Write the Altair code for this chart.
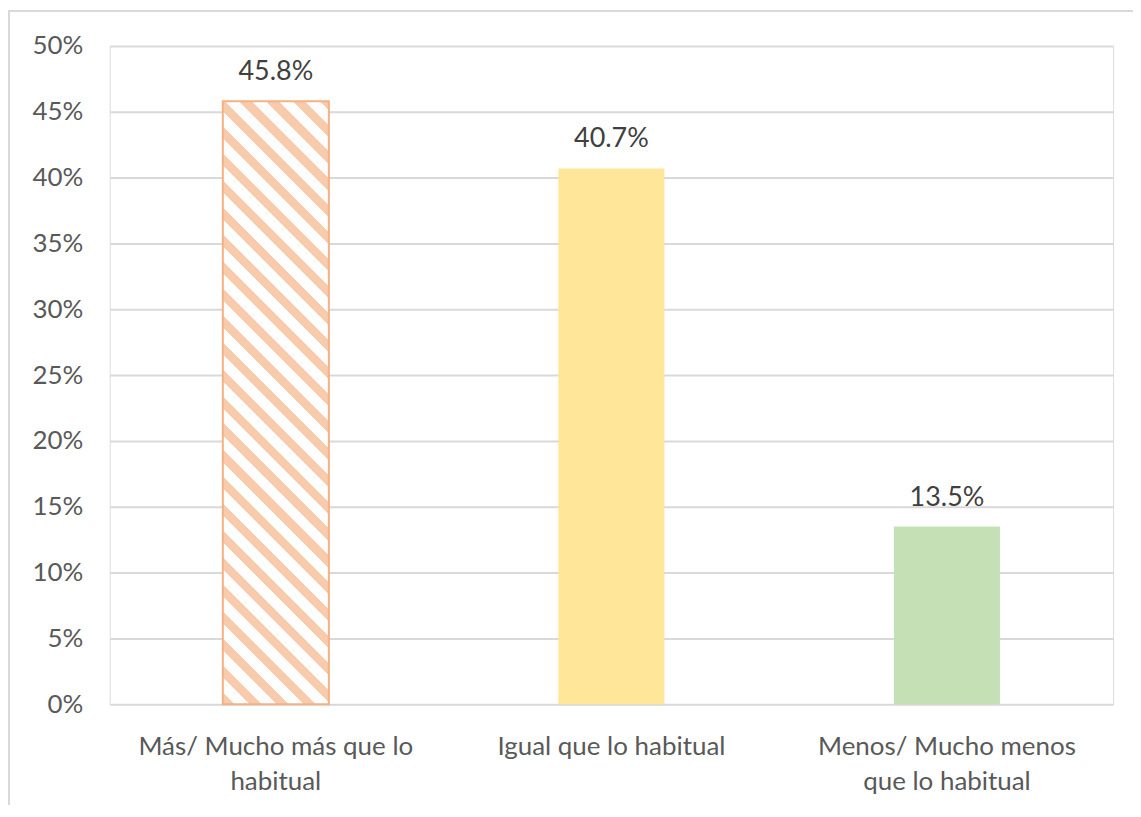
import altair as alt
import pandas as pd

# ---- data ----
categories = ["Más/ Mucho más que lo habitual", "Igual que lo habitual", "Menos/ Mucho menos que lo habitual"]
category_lines = [["Más/ Mucho más que lo", "habitual"], ["Igual que lo habitual"], ["Menos/ Mucho menos", "que lo habitual"]]
values = [0.458, 0.407, 0.135]
value_labels = ["45.8%", "40.7%", "13.5%"]
bar_colors = ["#F4B183", "#FFE699", "#C5E0B4"]

df = pd.DataFrame({"cat": categories, "val": values, "lab": value_labels})

# ---- layout / style ----
W, H = 1006, 660
YMAX = 0.5
PAD_IN = 0.684
PAD_OUT = 0.337
FONT = "Lato"
step = W / (len(categories) - PAD_IN + 2 * PAD_OUT)
bar_w = step * (1 - PAD_IN)

# hatch via a striped linear gradient (objectBoundingBox units)
bw = bar_w
bh = values[0] / YMAX * H
r = bh / bw
s = (1 + r) / (1 + r * r)
period = 27.0
n = (bw + bh) / period
frac = 0.45
stripe = "#F8CBAD"
stops = []
i = 0
while i < n:
    a = i / n
    b = min((i + frac) / n, 1.0)
    c = min((i + 1) / n, 1.0)
    stops += [{"offset": a, "color": stripe}, {"offset": b, "color": stripe},
              {"offset": b, "color": "#FFFFFF"}, {"offset": c, "color": "#FFFFFF"}]
    i += 1
hatch = {"gradient": "linear", "x1": 0, "y1": 1, "x2": s, "y2": 1 - r * s, "stops": stops}

label_expr = " : ".join(
    f"datum.value == '{c}' ? [" + ", ".join(f"'{l}'" for l in lines) + "]"
    for c, lines in zip(categories, category_lines)
) + " : datum.value"

x_enc = alt.X("cat:N", sort=categories,
              scale=alt.Scale(paddingInner=PAD_IN, paddingOuter=PAD_OUT),
              axis=alt.Axis(title=None, labelAngle=0, domain=False, ticks=False,
                            labelExpr=label_expr, labelFont=FONT, labelFontSize=26,
                            labelColor="#595959", labelPadding=29, labelLineHeight=36,
                            labelLimit=400))
y_enc = alt.Y("val:Q", scale=alt.Scale(domain=[0, YMAX], nice=False),
              axis=alt.Axis(title=None, format=".0%", values=[i * 0.05 for i in range(11)],
                            domain=False, ticks=False, grid=True, gridColor="#D9D9D9",
                            gridWidth=2, labelFont=FONT, labelFontSize=26,
                            labelColor="#595959", labelPadding=27))

base = alt.Chart(df)

frame = base.mark_rect(fill="transparent", stroke="#D9D9D9", strokeWidth=2).encode(
    x=alt.value(-101), x2=alt.value(W + 200), y=alt.value(-35), y2=alt.value(H + 300)
).transform_filter(alt.datum.cat == categories[0])

bars_other = base.transform_filter(alt.datum.cat != categories[0]).mark_bar().encode(
    x=x_enc, y=y_enc,
    color=alt.Color("cat:N", scale=alt.Scale(domain=categories, range=bar_colors), legend=None)
)

bar_hatch = base.transform_filter(alt.datum.cat == categories[0]).mark_bar(
    fill=hatch, stroke=bar_colors[0], strokeWidth=2
).encode(x=alt.X("cat:N", sort=categories), y="val:Q")

text = base.mark_text(baseline="alphabetic", dy=-21, font=FONT, fontSize=27, color="#404040").encode(
    x=alt.X("cat:N", sort=categories), y="val:Q", text="lab:N"
)

chart = alt.layer(frame, bars_other, bar_hatch, text).properties(
    width=W, height=H,
    autosize=alt.AutoSizeParams(type="none"),
    padding={"left": 102, "top": 37, "right": 20, "bottom": 100},
).configure_view(stroke=None).configure(background="white")

chart.save("out.html", embed_options={"renderer": "svg", "actions": False})
